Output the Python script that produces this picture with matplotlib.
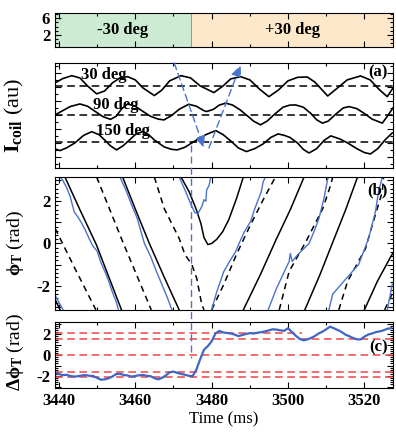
import numpy as np
import matplotlib
matplotlib.use('Agg')
import matplotlib.pyplot as plt
from matplotlib.ticker import MultipleLocator, FuncFormatter, NullFormatter
from matplotlib.transforms import blended_transform_factory

plt.rcParams['font.family'] = 'Liberation Serif'
plt.rcParams['font.weight'] = 'bold'
plt.rcParams['font.size'] = 12
plt.rcParams['mathtext.fontset'] = 'custom'
plt.rcParams['mathtext.rm'] = 'Liberation Serif:bold'
plt.rcParams['mathtext.it'] = 'Liberation Serif:italic:bold'
plt.rcParams['mathtext.bf'] = 'Liberation Serif:bold'
plt.rcParams['xtick.direction'] = 'in'
plt.rcParams['ytick.direction'] = 'in'

BLUE = '#4a74cc'

# time window and mode switch
t_min, t_max = 3439, 3527.5
t_switch = 3474.6
regime_labels = ['-30 deg', '+30 deg']

# (a) coil currents, relative to their own baseline
coil_labels = ['30 deg', '90 deg', '150 deg']
coil_offsets = [2.09, 0.0, -1.91]
t_c30 = [3439.0, 3441.0, 3443.4, 3445.5, 3447.5, 3449.9, 3452.0, 3454.0, 3456.0, 3458.0,
         3460.0, 3462.0, 3465.0, 3467.0, 3469.0, 3472.0, 3474.5, 3477.0, 3480.6, 3483.0,
         3485.0, 3487.6, 3490.0, 3492.5, 3495.0, 3497.5, 3500.0, 3502.5, 3505.0, 3507.0,
         3510.4, 3513.0, 3515.5, 3519.0, 3521.5, 3524.0, 3526.0, 3527.5]
v_c30 = [0.19, 0.50, 0.71, 0.55, -0.02, -0.59, -0.38, 0.19, 0.55, 0.64,
         0.41, -0.16, -0.71, -0.31, 0.34, 0.71, 0.55, -0.02, -0.50, -0.02,
         0.48, 0.64, 0.41, -0.24, -0.79, -0.31, 0.34, 0.59, 0.62, 0.26,
         -0.74, -0.16, 0.41, 0.69, 0.41, -0.31, -0.79, -0.16]
t_c90 = [3439.0, 3441.0, 3443.0, 3445.5, 3447.5, 3449.5, 3451.5, 3453.5, 3455.0, 3456.5,
         3458.0, 3460.0, 3462.0, 3464.0, 3466.0, 3467.5, 3469.5, 3471.5, 3474.0, 3476.0,
         3478.0, 3478.7, 3480.5, 3482.0, 3483.7, 3485.5, 3487.5, 3489.5, 3491.0, 3492.8,
         3494.5, 3496.5, 3498.7, 3500.5, 3502.0, 3504.0, 3506.0, 3507.5, 3509.0, 3510.5,
         3512.5, 3514.5, 3516.0, 3518.0, 3520.0, 3522.0, 3524.7, 3526.0, 3527.5]
v_c90 = [0.00, 0.30, 0.60, 0.78, 0.62, 0.25, -0.12, -0.32, -0.10, 0.45,
         0.78, 0.62, 0.25, -0.10, -0.30, -0.36, -0.05, 0.40, 0.76, 0.62,
         0.30, 0.24, 0.40, 0.70, 0.84, 0.70, 0.35, -0.10, -0.45, -0.71,
         -0.45, 0.05, 0.55, 0.70, 0.71, 0.55, 0.10, -0.35, -0.59, -0.45,
         0.05, 0.50, 0.59, 0.45, 0.10, -0.30, -0.59, -0.10, 0.50]
t_c150 = [3439.0, 3440.3, 3442.0, 3444.2, 3446.5, 3448.6, 3450.5, 3452.0, 3453.5, 3455.1,
          3456.8, 3458.5, 3460.2, 3461.9, 3463.5, 3465.0, 3467.6, 3469.5, 3471.0, 3473.0,
          3476.1, 3478.5, 3481.1, 3483.0, 3485.0, 3487.0, 3489.1, 3491.3, 3493.5, 3495.5,
          3497.4, 3499.0, 3500.5, 3502.5, 3504.0, 3505.5, 3507.5, 3509.5, 3511.2, 3513.5,
          3515.6, 3518.0, 3520.0, 3521.6, 3523.5, 3525.5, 3527.3]
v_c150 = [-0.52, -0.64, -0.45, -0.09, 0.45, 0.71, 0.50, 0.12, -0.30, -0.59,
          -0.30, 0.12, 0.55, 0.71, 0.50, 0.12, -0.38, -0.55, -0.59, -0.40,
          0.12, 0.50, 0.79, 0.50, 0.05, -0.45, -0.71, -0.50, -0.16, 0.30,
          0.55, 0.45, 0.30, -0.10, -0.55, -0.81, -0.50, 0.10, 0.41, 0.20,
          -0.09, -0.50, -0.78, -0.88, -0.50, 0.15, 0.62]

# blue dashed arrows in (a): (start, end) in data units
arrow_down = ((3470.2, 3.71), (3478.0, -2.36))
arrow_up = ((3479.3, -2.36), (3487.6, 3.57))

# (b) toroidal phases, wrapped into [-pi, pi]; one (t, phi) pair per branch
phi_solid = [
    ([3439.0, 3440.3], [-2.64, -np.pi]),
    ([3441.6, 3445.5, 3449.8, 3453.3, 3456.4], [np.pi, 1.6, -0.05, -1.69, -np.pi]),
    ([3456.7, 3460.3, 3463.7, 3467.6, 3471.5], [np.pi, 1.5, 0.0, -1.6, -np.pi]),
    ([3472.0, 3474.1, 3475.9, 3477.2, 3478.0, 3479.0, 3480.0, 3481.3, 3482.9, 3484.5,
      3486.5, 3488.3], [np.pi, 2.45, 1.65, 0.94, 0.28, -0.05, 0.0, 0.19, 0.56, 1.13, 2.12, np.pi]),
    ([3488.3, 3492.8, 3496.9, 3500.6, 3504.2], [-np.pi, -1.46, 0.19, 1.6, np.pi]),
    ([3504.4, 3508.4, 3511.7, 3515.1, 3518.2], [-np.pi, -1.46, 0.05, 1.6, np.pi]),
    ([3520.0, 3523.4, 3526.8, 3527.5], [-np.pi, -1.79, -0.66, -0.45]),
]
phi_dashed = [
    ([3439.0, 3444.2, 3449.7], [0.72, -1.18, -np.pi]),
    ([3449.9, 3456.9, 3464.2], [np.pi, 0.0, -np.pi]),
    ([3465.0, 3467.6, 3471.5, 3473.0, 3474.8, 3476.1, 3477.4, 3478.0],
     [np.pi, 1.65, 0.24, -0.52, -0.99, -1.65, -2.87, -np.pi]),
    ([3480.0, 3483.2, 3486.5, 3490.2, 3493.5, 3496.7], [-np.pi, -1.93, -0.52, 0.89, 2.07, np.pi]),
    ([3497.7, 3500.3, 3504.7, 3509.1, 3511.2, 3511.7], [-np.pi, -1.32, 0.09, 1.65, 2.78, np.pi]),
    ([3513.3, 3515.6, 3520.3, 3522.1, 3524.7, 3525.0], [-np.pi, -1.79, -0.24, 0.89, 2.45, np.pi]),
    ([3525.3, 3527.5], [-np.pi, -2.3]),
]
phi_blue = [
    ([3439.0, 3441.1], [-2.45, -np.pi]),
    ([3440.3, 3441.0, 3442.0, 3443.0, 3444.0, 3445.0, 3446.0, 3447.0, 3448.0, 3449.0,
      3450.0, 3451.0, 3452.0, 3453.0, 3454.0, 3455.0, 3455.6],
     [np.pi, 3.0, 2.65, 2.2, 1.5, 1.25, 0.95, 0.6, 0.2, -0.15,
      -0.35, -0.9, -1.3, -1.75, -2.3, -2.75, -np.pi]),
    ([3456.0, 3457.5, 3459.0, 3460.5, 3462.4, 3464.0, 3465.5, 3467.0, 3468.5, 3469.6],
     [np.pi, 2.55, 1.85, 1.2, 0.0, -0.6, -1.3, -1.95, -2.6, -np.pi]),
    ([3471.5, 3473.0, 3474.6, 3475.6, 3476.4, 3477.4, 3478.0, 3478.5, 3478.7, 3479.3, 3479.8],
     [np.pi, 2.54, 1.84, 1.46, 1.41, 1.74, 2.07, 2.0, 2.54, 2.73, np.pi]),
    ([3480.0, 3481.3, 3483.2, 3484.7, 3486.3, 3487.3, 3488.6, 3490.2, 3491.2, 3492.2,
      3493.0, 3493.5, 3494.1],
     [-np.pi, -2.31, -1.32, -0.85, -0.38, 0.05, 0.56, 1.04, 1.6, 2.07, 2.45, 2.92, np.pi]),
    ([3494.8, 3496.9, 3498.7, 3500.3, 3500.6, 3501.1, 3502.6, 3505.5, 3506.8, 3508.1,
      3509.4, 3510.4, 3510.7],
     [-np.pi, -2.16, -1.46, -0.85, -0.47, -0.85, -0.52, 0.0, 0.56, 1.18, 2.12, 3.06, np.pi]),
    ([3510.7, 3511.7, 3514.6, 3518.5, 3521.1, 3522.9, 3523.7, 3524.7],
     [-np.pi, -2.4, -1.79, -0.99, 0.24, 1.51, 2.45, np.pi]),
    ([3526.0, 3527.3], [-np.pi, -1.93]),
]

# (c) phase difference
t_dphi = np.arange(3439, 3528)
dphi = [-1.70, -1.80, -1.92, -1.88, -2.00, -2.05, -2.02, -1.95, -1.92, -1.98,
        -2.00, -2.18, -2.35, -2.32, -2.22, -2.05, -1.82, -1.80, -1.90, -1.95,
        -2.05, -2.00, -1.93, -1.90, -1.98, -2.02, -2.20, -2.32, -2.18, -1.95,
        -1.65, -1.58, -1.70, -1.80, -1.88, -1.98, -2.02, -1.40, -0.40, 0.50,
        0.85, 1.30, 2.05, 2.30, 2.15, 2.10, 2.05, 1.95, 1.80, 1.90,
        2.00, 2.08, 2.05, 2.12, 2.18, 2.25, 2.35, 2.45, 2.42, 2.35,
        2.30, 2.55, 2.20, 1.85, 1.55, 1.40, 1.48, 1.62, 1.80, 2.05,
        2.22, 2.45, 2.70, 2.55, 2.38, 2.20, 1.95, 1.80, 1.62, 1.50,
        1.48, 1.75, 1.95, 2.05, 2.18, 2.25, 2.35, 2.50, 2.55]
ref_levels = [2 * np.pi / 3, np.pi / 2, 0.0, -np.pi / 2, -2 * np.pi / 3]

fig = plt.figure(figsize=(3.96, 4.34), dpi=100)
L, W = 0.139, 0.8535
ax0 = fig.add_axes([L, 0.892, W, 0.078])
ax_a = fig.add_axes([L, 0.613, W, 0.242])
ax_b = fig.add_axes([L, 0.286, W, 0.306])
ax_c = fig.add_axes([L, 0.106, W, 0.152])

for ax in (ax0, ax_a, ax_b, ax_c):
    ax.set_xlim(t_min, t_max)
    ax.xaxis.set_major_locator(MultipleLocator(20))
    ax.xaxis.set_minor_locator(MultipleLocator(10))
    ax.tick_params(which='both', top=True, right=True, width=0.8)
    ax.tick_params(which='major', length=4)
    ax.tick_params(which='minor', length=2)
    if ax is not ax_c:
        ax.xaxis.set_major_formatter(NullFormatter())

# top: regime bar
ax0.axvspan(t_min, t_switch, color='#cdead2', lw=0)
ax0.axvspan(t_switch, t_max, color='#fde8cc', lw=0)
ax0.axvline(t_switch, color='#888888', lw=0.6)
ax0.set_ylim(-0.8, 7.2)
ax0.set_yticks([2, 6])
ax0.yaxis.set_minor_locator(MultipleLocator(1))
ax0.text((t_min + t_switch) / 2, 3.2, regime_labels[0], ha='center', va='center', fontsize=12)
ax0.text((t_switch + t_max) / 2, 3.2, regime_labels[1], ha='center', va='center', fontsize=12)

# (a)
for tt, vv, off, lab, pos in zip([t_c30, t_c90, t_c150], [v_c30, v_c90, v_c150], coil_offsets,
                                 coil_labels, [(3451.7, 2.86), (3454.8, 0.71), (3456.9, -1.18)]):
    ax_a.plot(tt, np.array(vv) + off, color='black', lw=1.2)
    ax_a.axhline(off, color='black', lw=1.1, dashes=(5, 3))
    ax_a.text(pos[0], pos[1], lab, ha='center', va='center', fontsize=12)
ax_a.set_ylim(-3.79, 3.71)
ax_a.yaxis.set_major_locator(MultipleLocator(1))
ax_a.yaxis.set_minor_locator(MultipleLocator(0.5))
ax_a.yaxis.set_major_formatter(NullFormatter())
ax_a.text(0.985, 0.91, '(a)', transform=ax_a.transAxes, ha='right', va='center', fontsize=12)
for (p0, p1) in (arrow_down, arrow_up):
    ax_a.annotate('', xy=p1, xytext=p0, annotation_clip=False,
                  arrowprops=dict(arrowstyle='-|>,head_length=0.7,head_width=0.3',
                                  color=BLUE, lw=1.0, linestyle=(0, (5, 3)),
                                  shrinkA=0, shrinkB=0, mutation_scale=10))
ax_a.set_ylabel(r'$\mathrm{I_{coil}}$ (au)', fontsize=16)
ax_a.yaxis.set_label_coords(-0.085, 0.5)

# (b)
for tt, pp in phi_solid:
    ax_b.plot(tt, pp, color='black', lw=1.1)
for tt, pp in phi_dashed:
    ax_b.plot(tt, pp, color='black', lw=1.1, dashes=(4, 3))
for tt, pp in phi_blue:
    ax_b.plot(tt, pp, color=BLUE, lw=1.0)
ax_b.set_ylim(-np.pi, np.pi)
ax_b.yaxis.set_major_locator(MultipleLocator(1))
ax_b.yaxis.set_minor_locator(MultipleLocator(0.2))
ax_b.yaxis.set_major_formatter(FuncFormatter(lambda v, p: '%d' % v if round(v) % 2 == 0 else ''))
ax_b.text(0.985, 0.9, '(b)', transform=ax_b.transAxes, ha='right', va='center', fontsize=12)
ax_b.set_ylabel(r'$\mathrm{\phi_T}$ (rad)', fontsize=14)
ax_b.yaxis.set_label_coords(-0.085, 0.5)

# (c)
for k, lev in enumerate(ref_levels):
    ax_c.axhline(lev, xmax=0.73 if k == 0 else 1, color='#f04545', lw=1.1, dashes=(5, 3))
ax_c.plot(t_dphi, dphi, color='#3f66c4', lw=1.6)
ax_c.set_ylim(-np.pi, np.pi)
ax_c.yaxis.set_major_locator(MultipleLocator(1))
ax_c.yaxis.set_minor_locator(MultipleLocator(0.2))
ax_c.yaxis.set_major_formatter(FuncFormatter(lambda v, p: '%d' % v if round(v) % 2 == 0 else ''))
ax_c.text(0.985, 0.62, '(c)', transform=ax_c.transAxes, ha='right', va='center', fontsize=12)
ax_c.set_ylabel(r'$\mathrm{\Delta\phi_T}$ (rad)', fontsize=14)
ax_c.yaxis.set_label_coords(-0.085, 0.55)
ax_c.set_xlabel('Time (ms)', fontsize=12, labelpad=2)

# vertical marker of the switch, through (a)-(c)
tr = blended_transform_factory(ax_b.transData, fig.transFigure)
fig.add_artist(plt.Line2D([t_switch, t_switch], [0.666, 0.175], transform=tr,
                          color=BLUE, lw=1.0, dashes=(5, 3)))

fig.savefig('out.png', dpi=100)
